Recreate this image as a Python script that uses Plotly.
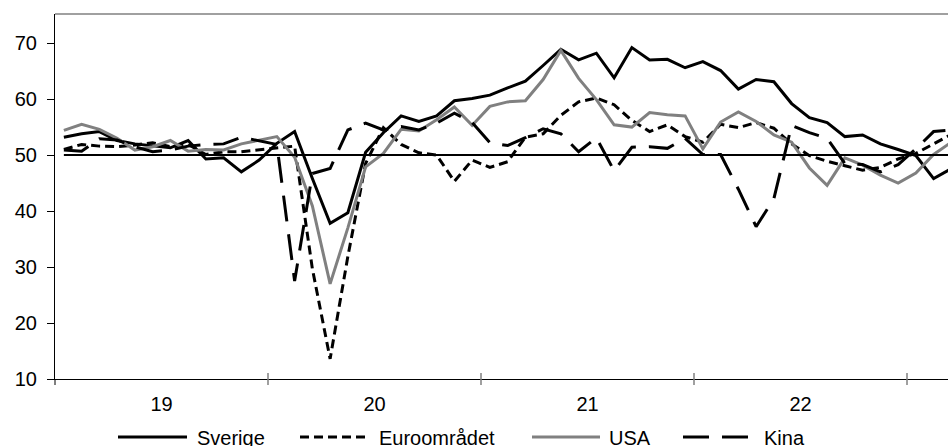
import plotly.graph_objects as go

# ---- data (monthly, Jan 2019 - Mar 2023) ----
months = [f"{2019 + k // 12}-{k % 12 + 1:02d}" for k in range(51)]
year_labels = ["19", "20", "21", "22"]

sverige = [53.2, 53.8, 54.2, 52.6, 52.0, 51.6, 51.3, 52.6, 49.3, 49.5, 47.0, 49.1,
           52.1, 54.2, 45.8, 37.8, 39.7, 50.5, 54.0, 57.0, 56.0, 57.0, 59.7, 60.1,
           60.7, 62.0, 63.2, 66.0, 68.9, 67.0, 68.2, 63.8, 69.2, 67.0, 67.1, 65.6,
           66.7, 65.1, 61.8, 63.5, 63.1, 59.2, 56.7, 55.8, 53.3, 53.6, 52.0, 51.0,
           49.9, 45.8, 47.6]
euro = [51.0, 51.9, 51.6, 51.5, 51.8, 52.2, 51.5, 51.9, 50.1, 50.6, 50.6, 50.9,
        51.3, 51.6, 29.7, 13.6, 31.9, 48.5, 54.9, 51.9, 50.4, 50.0, 45.3, 49.1,
        47.8, 48.8, 53.2, 53.8, 57.1, 59.5, 60.2, 59.0, 56.2, 54.2, 55.4, 53.3,
        52.3, 55.5, 54.9, 55.8, 54.8, 52.0, 49.9, 48.9, 48.1, 47.3, 47.8, 49.3,
        50.3, 52.0, 53.7]
usa = [54.4, 55.5, 54.6, 53.0, 50.9, 51.5, 52.6, 50.7, 51.0, 50.9, 52.0, 52.7,
       53.3, 49.6, 40.9, 27.0, 37.0, 47.9, 50.3, 54.6, 54.3, 56.3, 58.6, 55.3,
       58.7, 59.5, 59.7, 63.5, 68.7, 63.7, 59.9, 55.4, 55.0, 57.6, 57.2, 57.0,
       51.1, 55.9, 57.7, 56.0, 53.6, 52.3, 47.7, 44.6, 49.5, 48.2, 46.4, 45.0,
       46.8, 50.1, 52.3]
kina = [50.9, 50.7, 52.9, 52.7, 51.5, 50.6, 50.9, 51.6, 51.9, 52.0, 53.2, 52.6,
        51.9, 27.5, 46.7, 47.6, 54.5, 55.7, 54.5, 55.1, 54.5, 55.7, 57.5, 55.8,
        52.2, 51.7, 53.1, 54.7, 53.8, 50.6, 53.1, 47.2, 51.4, 51.5, 51.2, 53.0,
        50.1, 50.1, 43.9, 37.2, 42.2, 55.3, 54.0, 53.0, 48.5, 48.3, 47.0, 48.3,
        51.1, 54.2, 54.5]
threshold = [50] * len(months)

series_names = ["Sverige", "Euroområdet", "USA", "Kina"]
y_ticks = [10, 20, 30, 40, 50, 60, 70]

# ---- styles ----
GRAY = "#808080"
styles = {
    "Sverige": dict(color="black", width=3, dash="solid"),
    "Euroområdet": dict(color="black", width=3, dash="9px,5px"),
    "USA": dict(color=GRAY, width=3, dash="solid"),
    "Kina": dict(color="black", width=3, dash="26px,13px"),
}

x = list(range(len(months)))
fig = go.Figure()
for name, vals in zip(series_names, [sverige, euro, usa, kina]):
    fig.add_trace(go.Scatter(x=x, y=vals, mode="lines", name=name,
                             line=styles[name], customdata=months,
                             hovertemplate="%{customdata}: %{y}<extra>" + name + "</extra>"))
fig.add_trace(go.Scatter(x=x, y=threshold, mode="lines", showlegend=False,
                         line=dict(color="black", width=2), hoverinfo="skip"))

# ---- layout ----
W, H = 948, 446
L, R, T, B = 55, 0, 14, 67
pw, ph = W - L - R, H - T - B

def px_x(p):
    return (p - L) / pw

def px_y(p):
    return (H - B - p) / ph

year_mid = [12 * k + 5.5 for k in range(len(year_labels))]
year_bounds = [12 * k + 11.5 for k in range(len(year_labels))]

fig.update_layout(
    width=W, height=H, autosize=False,
    margin=dict(l=L, r=R, t=T, b=B, pad=0),
    plot_bgcolor="white", paper_bgcolor="white",
    showlegend=False,
    font=dict(family="Liberation Sans, Arial, sans-serif", size=20, color="black"),
)
fig.update_xaxes(range=[-0.5, 49.81], tickmode="array", tickvals=year_mid,
                 ticktext=year_labels, ticks="", showgrid=False, zeroline=False,
                 showline=True, linecolor="black", linewidth=1,
                 ticklabelstandoff=7)
fig.update_yaxes(range=[10, 75.2], tickmode="array", tickvals=y_ticks,
                 ticks="outside", ticklen=7, tickcolor="black", tickwidth=1,
                 showgrid=False, zeroline=False, showline=True,
                 linecolor="black", linewidth=1, ticklabelstandoff=6)

shapes = []
# top border
shapes.append(dict(type="line", xref="paper", yref="paper", x0=0, x1=1, y0=1, y1=1,
                   line=dict(color=GRAY, width=1.5)))
# year boundary tick marks crossing the x axis
for b in year_bounds:
    shapes.append(dict(type="line", xref="x", yref="paper", x0=b, x1=b,
                       y0=-6 / ph, y1=6 / ph, line=dict(color=GRAY, width=1.5)))
# left axis extension below the x axis
shapes.append(dict(type="line", xref="paper", yref="paper", x0=0, x1=0,
                   y0=-6 / ph, y1=0, line=dict(color="black", width=1)))

# manual legend
legend_items = [("Sverige", 118, 187, 195), ("Euroområdet", 300, 370, 377),
                ("USA", 532, 600, 607), ("Kina", 683, 755, 762)]
ly = 437
annotations = []
for name, lx0, lx1, tx in legend_items:
    st = styles[name]
    shapes.append(dict(type="line", xref="paper", yref="paper",
                       x0=px_x(lx0), x1=px_x(lx1), y0=px_y(ly), y1=px_y(ly),
                       line=dict(color=st["color"], width=st["width"], dash=st["dash"])))
    annotations.append(dict(text=name, xref="paper", yref="paper", x=px_x(tx),
                            y=px_y(ly + 1), xanchor="left", yanchor="middle",
                            showarrow=False, font=dict(size=20, color="black")))

fig.update_layout(shapes=shapes, annotations=annotations)

fig.write_html("out.html", config={"displayModeBar": False},
               post_script="document.body.style.margin='0';")
